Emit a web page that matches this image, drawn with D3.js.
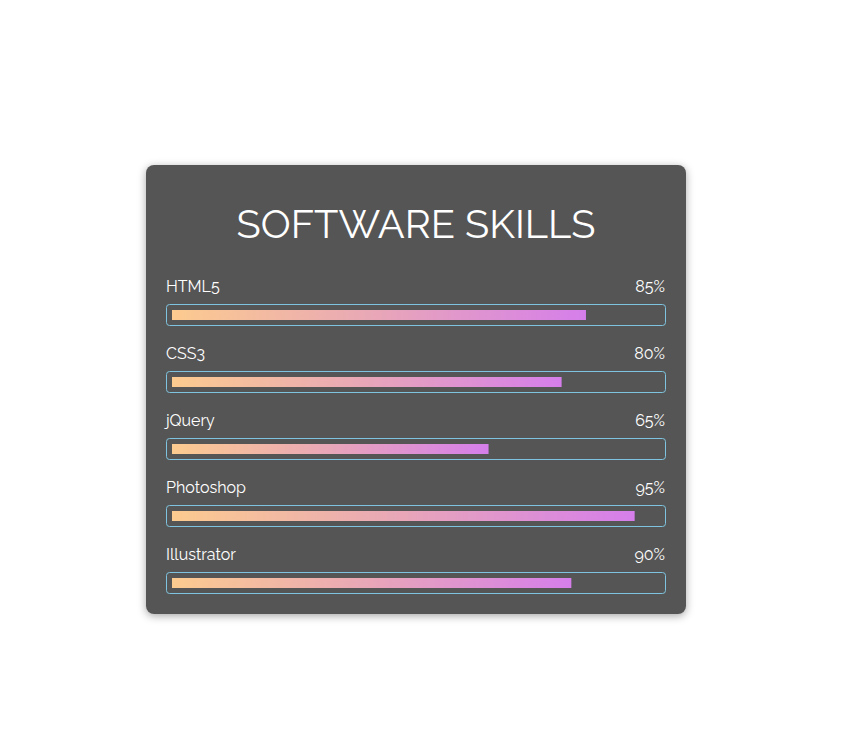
<!DOCTYPE html>
<html><head><meta charset="utf-8">
<script src="https://cdn.jsdelivr.net/npm/d3@7"></script>
<style>
html,body{margin:0;padding:0;background:#fff;}
svg{display:block;}
text{font-family:Raleway, Lato, "Open Sans", sans-serif;fill:#fff;}
</style></head><body>
<svg id="c" width="849" height="729"></svg>
<script>
const title = "SOFTWARE SKILLS";
const skills = ["HTML5", "CSS3", "jQuery", "Photoshop", "Illustrator"];
const percentLabels = ["85%", "80%", "65%", "95%", "90%"];
const barValues = [85, 80, 65, 95, 82];

const svg = d3.select("#c");
const defs = svg.append("defs");
const f = defs.append("filter").attr("id","sh").attr("x","-10%").attr("y","-10%").attr("width","120%").attr("height","120%");
f.append("feDropShadow").attr("dx",0).attr("dy",2).attr("stdDeviation",4).attr("flood-color","#000").attr("flood-opacity",0.35);
const g = defs.append("linearGradient").attr("id","grad").attr("x1","0").attr("x2","1").attr("y1","0").attr("y2","0");
g.append("stop").attr("offset","0%").attr("stop-color","#fccb8f");
g.append("stop").attr("offset","50%").attr("stop-color","#e8a6b8");
g.append("stop").attr("offset","100%").attr("stop-color","#d57eeb");

const card = {x:146, y:165, w:540, h:449};
svg.append("rect").attr("x",card.x).attr("y",card.y).attr("width",card.w).attr("height",card.h)
  .attr("rx",8).attr("fill","#555555").attr("filter","url(#sh)");

const t = svg.append("text").attr("x", card.x + card.w/2).attr("y", 238).attr("text-anchor","middle")
  .attr("font-size", 40).attr("font-weight", 400).text(title);
// fit to reference width
const w = t.node().getComputedTextLength();
t.attr("font-size", 40 * 359 / w);

const trackX0 = 166.5, trackX1 = 665.5;
const x = d3.scaleLinear().domain([0,100]).range([172, 659]);
const y = d3.scaleBand().domain(skills).range([304, 304 + 67*5]).paddingInner(0);

const rows = svg.selectAll("g.row").data(skills).join("g").attr("class","row")
  .attr("transform", d => `translate(0,${y(d)})`);

rows.append("text").attr("x",166).attr("y",-12).attr("font-size",16).text(d=>d);
rows.append("text").attr("x",665).attr("y",-12).attr("font-size",16).attr("text-anchor","end")
  .text((d,i)=>percentLabels[i]);
rows.append("rect").attr("x",trackX0).attr("y",0.5).attr("width",trackX1-trackX0).attr("height",21)
  .attr("rx",3).attr("fill","none").attr("stroke","#7ec4e0").attr("stroke-width",1);
rows.append("rect").attr("x",x(0)).attr("y",6).attr("height",10)
  .attr("width",(d,i)=>x(barValues[i]) - x(0)).attr("fill","url(#grad)");
</script></body></html>
